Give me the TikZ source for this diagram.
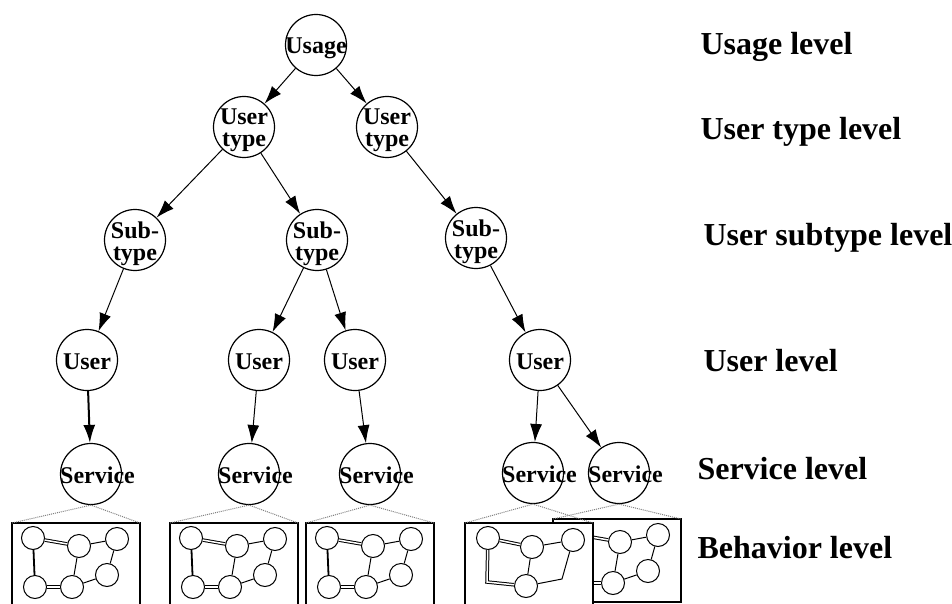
\documentclass[tikz,border=0pt]{standalone}
\usepackage{fontspec}
\setmainfont{Liberation Serif}
\usetikzlibrary{positioning,arrows.meta}

\newcommand{\one}[1]{\makebox[0pt]{#1}}
\newcommand{\two}[2]{\makebox[0pt]{\begin{tabular}[b]{@{}c@{}}#1\\#2\end{tabular}}}
\newcommand{\svc}{\makebox[0pt]{\hspace{13pt}Service}}

% behaviour graph inside a box
\newcommand{\behav}[2]{%
  \begin{scope}[shift={(#1.north west)}]
    \node[bstate] (#2a) at (21,15) {};
    \node[bstate] (#2b) at (67,23) {};
    \node[bstate] (#2c) at (105,16) {};
    \node[bstate] (#2d) at (23,64) {};
    \node[bstate] (#2e) at (60,64) {};
    \node[bstate] (#2f) at (95,52) {};
    \draw[dbl] (#2a) -- (#2b);
    \draw[dbl] (#2d) -- (#2e);
    \draw[line width=1.8pt] (#2a) -- (#2d);
    \draw (#2b) -- (#2c) (#2b) -- (#2e) (#2c) -- (#2f) (#2e) -- (#2f);
  \end{scope}}
\newcommand{\behavcut}[2]{%
  \begin{scope}[shift={(#1.north west)}]
    \node[bstate] (#2a) at (23,15) {};
    \node[bstate] (#2b) at (67,24) {};
    \node[bstate] (#2c) at (108,17) {};
    \node[bstate] (#2e) at (61,63) {};
    \coordinate (#2d) at (22,59);
    \coordinate (#2f) at (97,56);
    \draw[dbl] (#2a) -- (#2d) -- (#2e);
    \draw[dbl] (#2a) -- (#2b);
    \draw (#2b) -- (#2c) (#2b) -- (#2e) (#2c) -- (#2f) -- (#2e);
  \end{scope}}

\begin{document}
\begin{tikzpicture}[x=1pt,y=-1pt,>={Latex[length=18pt,width=12pt]},line width=1pt,
    tnode/.style={draw,circle,fill=white,minimum size=61pt,inner sep=0pt,line width=1.2pt,
      font=\fontsize{24}{22}\selectfont\bfseries,text height=18pt,text depth=0pt},
    tnode2/.style={tnode,text height=40pt},
    lvl/.style={anchor=base west,inner sep=0pt,font=\fontsize{32}{36}\selectfont\bfseries},
    bbox/.style={draw,fill=white,line width=2pt,outer sep=0pt,anchor=north west,
      minimum width=128pt,minimum height=90pt},
    bstate/.style={draw,circle,fill=white,minimum size=23pt,inner sep=0pt,line width=1pt},
    dbl/.style={double,double distance=1.5pt,line width=1pt},
    zoomline/.style={gray,densely dotted,line width=1pt}]
    \useasboundingbox (0,0) rectangle (952,604);

    \node[tnode] (usage) at (316,45) {\one{Usage}};
    \node[tnode2] (ut1) at (244,127) {\two{User}{type}};
    \node[tnode2] (ut2) at (387,127) {\two{User}{type}};
    \node[tnode2] (sub1) at (135,240) {\two{Sub-}{type}};
    \node[tnode2] (sub2) at (317,240) {\two{Sub-}{type}};
    \node[tnode2] (sub3) at (476,238) {\two{Sub-}{type}};
    \node[tnode] (usr1) at (87,360) {\one{User}};
    \node[tnode] (usr2) at (259,360) {\one{User}};
    \node[tnode] (usr3) at (355,360) {\one{User}};
    \node[tnode] (usr4) at (540,360) {\one{User}};
    \node[tnode] (svc1) at (91,474) {\svc};
    \node[tnode] (svc2) at (249,474) {\svc};
    \node[tnode] (svc3) at (370,474) {\svc};
    \node[tnode] (svc4) at (533,473) {\svc};
    \node[tnode] (svc5) at (619,473) {\svc};

    \path[->]
    (usage) edge (ut1) edge (ut2)
    (ut1) edge (sub1) edge (sub2)
    (ut2) edge (sub3)
    (sub1) edge (usr1)
    (sub2) edge (usr2) edge (usr3)
    (sub3) edge (usr4)
    (usr1) edge[line width=2pt] (svc1)
    (usr2) edge (svc2)
    (usr3) edge (svc3)
    (usr4) edge (svc4) edge (svc5);

    \node[bbox] (beh1) at (12,523) {};
    \behav{beh1}{g1}
    \node[bbox] (beh2) at (170,523) {};
    \behav{beh2}{g2}
    \node[bbox] (beh3) at (306,523) {};
    \behav{beh3}{g3}
    \node[bbox,minimum height=83pt] (beh5) at (553,519) {};
    \behav{beh5}{g5}
    \node[bbox] (beh4) at (465,523) {};
    \behavcut{beh4}{g4}

    \draw[zoomline] (beh1.north west) -- (svc1.south) -- (beh1.north east);
    \draw[zoomline] (beh2.north west) -- (svc2.south) -- (beh2.north east);
    \draw[zoomline] (beh3.north west) -- (svc3.south) -- (beh3.north east);
    \draw[zoomline] (beh4.north west) -- (svc4.south) -- (beh4.north east);
    \draw[zoomline] (beh5.north west) -- (svc5.south) -- (beh5.north east);

    \node[lvl] (l1) at (700,55) {Usage level};
    \node[lvl] (l2) at (700,140) {User type level};
    \node[lvl] (l3) at (703,245) {User subtype level};
    \node[lvl] (l4) at (703,371) {User level};
    \node[lvl] (l5) at (697,479) {Service level};
    \node[lvl] (l6) at (697,558) {Behavior level};
\end{tikzpicture}
\end{document}
